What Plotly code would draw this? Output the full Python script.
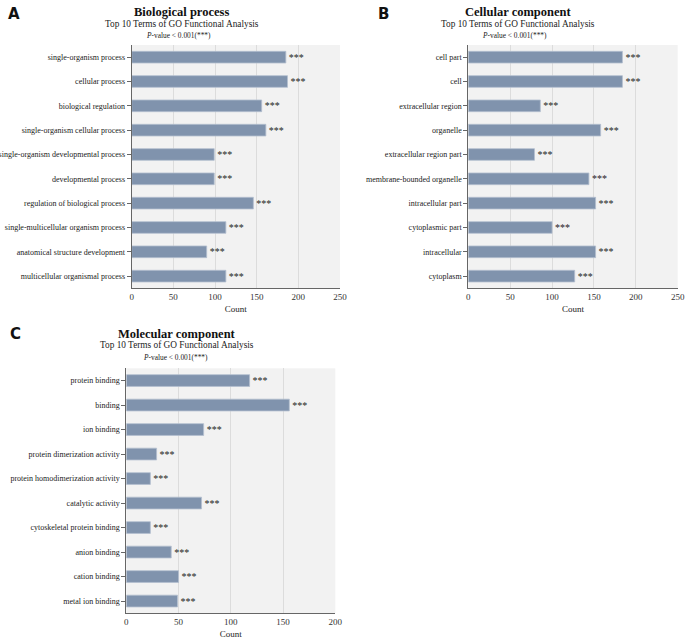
import plotly.graph_objects as go

# -----------------------------
# Data
# -----------------------------
bp_terms = ['single-organism process', 'cellular process', 'biological regulation',
            'single-organism cellular process', 'single-organism developmental process',
            'developmental process', 'regulation of biological process',
            'single-multicellular organism process', 'anatomical structure development',
            'multicellular organismal process']
bp_counts = [185, 187, 156, 161, 99, 99, 146, 113, 90, 113]

cc_terms = ['cell part', 'cell', 'extracellular region', 'organelle',
            'extracellular region part', 'membrane-bounded organelle',
            'intracellular part', 'cytoplasmic part', 'intracellular', 'cytoplasm']
cc_counts = [184, 184, 86, 158, 79, 144, 152, 100, 152, 127]

mf_terms = ['protein binding', 'binding', 'ion binding', 'protein dimerization activity',
            'protein homodimerization activity', 'catalytic activity',
            'cytoskeletal protein binding', 'anion binding', 'cation binding',
            'metal ion binding']
mf_counts = [118, 156, 74, 29, 23, 72, 23, 43, 50, 49]

stars = ['***'] * 10
W, H = 694, 639
SERIF = 'Liberation Serif, Times New Roman, serif'
BAR = '#8093ad'

fig = go.Figure()

# (terms, counts, axis suffix, x domain px, y domain px, x max)
panels = [
    (bp_terms, bp_counts, '', (131.7, 340), (45, 288.3), 250),
    (cc_terms, cc_counts, '2', (468.3, 677.7), (45, 288.3), 250),
    (mf_terms, mf_counts, '3', (126.3, 335.3), (368.3, 613.3), 200),
]

for terms, counts, s, (x0, x1), (y0, y1), xmax in panels:
    fig.add_trace(go.Bar(
        x=counts, y=terms, orientation='h',
        marker=dict(color=BAR, line=dict(color='#b4bfcf', width=0.8)),
        width=0.48,
        text=stars, textposition='outside', cliponaxis=False,
        textfont=dict(family=SERIF, size=10, color='#222'),
        xaxis='x' + s, yaxis='y' + s, showlegend=False,
    ))
    fig.update_layout(**{
        'xaxis' + s: dict(
            domain=[x0 / W, x1 / W], range=[0, xmax], dtick=50,
            anchor='y' + s, showgrid=True, gridcolor='#dcdcdc', gridwidth=1,
            showline=True, linecolor='#666', linewidth=1, zeroline=False,
            ticks='', automargin=False,
            tickfont=dict(family=SERIF, size=9, color='#333'),
            title=dict(text='Count', font=dict(family=SERIF, size=9, color='#222'),
                       standoff=4),
        ),
        'yaxis' + s: dict(
            domain=[1 - y1 / H, 1 - y0 / H], anchor='x' + s,
            autorange='reversed', showline=True, linecolor='#666', linewidth=1,
            ticks='outside', ticklen=4, tickcolor='#666', showgrid=False,
            automargin=False,
            tickfont=dict(family=SERIF, size=8, color='#222'),
        ),
    })

# -----------------------------
# Titles and panel letters
# -----------------------------
titles = [
    ('A', 14, 14, 'Biological process', 181, 12, 182, 24, 178, 35),
    ('B', 383, 14, 'Cellular component', 518, 12, 518, 24, 514, 35),
    ('C', 15, 334, 'Molecular component', 177, 334, 177, 345, 175, 357),
]


def note(text, x, y, font):
    fig.add_annotation(text=text, x=x / W, y=1 - y / H, xref='paper', yref='paper',
                       xanchor='center', yanchor='middle', showarrow=False, font=font)


for letter, lx, ly, title, tx, ty, sx, sy, px, py in titles:
    note('<b>' + letter + '</b>', lx, ly, dict(family='DejaVu Sans, Arial', size=15, color='#111'))
    note('<b>' + title + '</b>', tx, ty, dict(family=SERIF, size=12.5, color='#111'))
    note('Top 10 Terms of GO Functional Analysis', sx, sy, dict(family=SERIF, size=9.3, color='#222'))
    note('<i>P</i>-value < 0.001(***)', px, py, dict(family=SERIF, size=7.4, color='#222'))

fig.update_layout(
    width=W, height=H, margin=dict(l=0, r=0, t=0, b=0),
    paper_bgcolor='white', plot_bgcolor='#f2f2f2',
    bargap=0.5,
)

# remove the default page margin so the figure fills the window
fig.write_html("out.html", config={'displayModeBar': False},
               post_script="document.body.style.margin='0';")
